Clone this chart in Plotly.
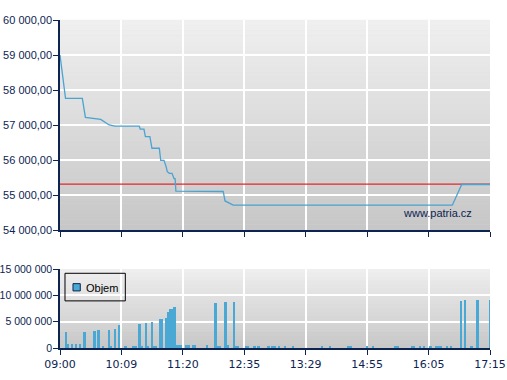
import plotly.graph_objects as go

# ---------------- data ----------------
# x axis is a trade-slot index; labelled slots every 30
tick_slots = [0, 30, 60, 90, 120, 150, 180, 210]
tick_labels = ["09:00", "10:09", "11:20", "12:35", "13:29", "14:55", "16:05", "17:15"]

price_x = [0, 2.7, 10.9, 12.4, 19.9, 24.0, 26.9, 38.7, 39.2, 41.0, 41.7, 43.9, 44.9,
           48.5, 49.2, 50.8, 51.8, 52.4, 53.4, 54.7, 55.7, 56.2, 56.6, 79.7, 80.6,
           81.4, 84.6, 191.6, 196.2, 210]
price_y = [59000, 57760, 57760, 57220, 57160, 57000, 56965, 56965, 56880, 56880,
           56670, 56670, 56335, 56335, 55990, 55990, 55810, 55665, 55620, 55620,
           55470, 55470, 55110, 55100, 54830, 54810, 54710, 54710, 55300, 55300]

reference_price = 55310

vol_x = [3, 4, 6, 8, 10, 12, 17, 19, 21, 24, 25, 27, 29, 32, 36, 37, 39, 40, 42, 43,
         45, 46, 47, 49, 50, 52, 53, 54, 55, 56, 57, 58, 59, 62, 63, 65, 66, 72, 76,
         77, 78, 81, 82, 85, 86, 87, 91, 92, 95, 97, 102, 104, 105, 107, 110, 114,
         128, 132, 141, 142, 150, 153, 164, 165, 172, 173, 176, 178, 181, 184, 185,
         186, 189, 191, 196, 198, 201, 204, 210]
vol_y = [3.1e6, 0.8e6, 0.8e6, 0.8e6, 0.8e6, 3.1e6, 3.3e6, 3.45e6, 0.25e6, 3.45e6,
         0.25e6, 3.65e6, 4.4e6, 0.45e6, 0.45e6, 0.45e6, 4.6e6, 0.25e6, 4.8e6, 0.25e6,
         4.95e6, 0.25e6, 0.25e6, 5.5e6, 5.5e6, 5.7e6, 6.85e6, 7.4e6, 7.4e6, 7.8e6,
         0.6e6, 0.6e6, 0.6e6, 0.6e6, 0.6e6, 0.6e6, 0.6e6, 0.6e6, 8.6e6,
         0.25e6, 0.25e6, 8.7e6, 0.6e6, 8.7e6, 0.25e6, 0.25e6, 0.25e6, 0.25e6, 0.25e6,
         0.25e6, 0.25e6, 0.25e6, 0.25e6, 0.25e6, 0.25e6, 0.25e6,
         0.25e6, 0.25e6, 0.25e6, 0.25e6, 0.25e6, 0.25e6, 0.25e6, 0.25e6, 0.25e6,
         0.25e6, 0.25e6, 0.25e6, 0.25e6, 0.25e6, 0.25e6,
         0.25e6, 0.25e6, 0.25e6, 8.95e6, 9.1e6, 0.25e6, 9.1e6, 9.1e6]

legend_label = "Objem"
watermark = "www.patria.cz"

# ---------------- style ----------------
NAVY = "#0d2452"
LINE = "#4aa3d1"
BAR = "#4aa8d4"
RED = "#e3262a"
FONT_Y = dict(family="Liberation Sans", size=11, color=NAVY)
FONT_Y2 = dict(family="Liberation Sans", size=10.5, color=NAVY)
FONT_X = dict(family="DejaVu Sans", size=11, color=NAVY)

fig = go.Figure()

fig.add_trace(go.Scatter(x=[0, 210], y=[reference_price, reference_price], mode="lines",
                         line=dict(color=RED, width=1.3), xaxis="x", yaxis="y",
                         showlegend=False, hoverinfo="skip"))
fig.add_trace(go.Scatter(x=price_x, y=price_y, mode="lines",
                         line=dict(color=LINE, width=1.3), xaxis="x", yaxis="y",
                         showlegend=False))
fig.add_trace(go.Bar(x=vol_x, y=vol_y, marker=dict(color=BAR, line=dict(width=0)),
                     width=0.95, xaxis="x2", yaxis="y2", showlegend=False))

H, W = 380, 507
mt, mb, ml, mr = 20, 32, 60, 17
ph = H - mt - mb
top_dom = [(348 - 230) / ph, 1]
bot_dom = [0, (348 - 269) / ph]

shapes = []
# gradient backgrounds
def gradient(xref, yref, c_top, c_bot, n=40):
    for i in range(n):
        t = (i + 0.5) / n
        c = [round(c_top[k] + (c_bot[k] - c_top[k]) * t) for k in range(3)]
        shapes.append(dict(type="rect", xref=xref, yref=yref, x0=0, x1=1,
                           y0=1 - (i + 1) / n, y1=1 - i / n + 0.001, layer="below",
                           line=dict(width=0), fillcolor="rgb(%d,%d,%d)" % tuple(c)))

gradient("x domain", "y domain", (240, 240, 240), (198, 198, 198))
gradient("x2 domain", "y2 domain", (239, 239, 239), (199, 199, 199))

# legend box (drawn)
shapes.append(dict(type="rect", xref="x2 domain", yref="y2 domain", x0=0.0116, x1=0.1519,
                   y0=0.5965, y1=0.9458, line=dict(color="black", width=1), layer="above"))
shapes.append(dict(type="rect", xref="x2 domain", yref="y2 domain", x0=0.0302, x1=0.0472,
                   y0=0.7226, y1=0.8146, line=dict(color=NAVY, width=1), fillcolor=BAR,
                   layer="above"))

annotations = [
    dict(text=legend_label, xref="x2 domain", yref="y2 domain", x=0.0565, y=0.7566,
         xanchor="left", yanchor="middle", showarrow=False,
         font=dict(family="Liberation Sans", size=11, color="black")),
    dict(text=watermark, xref="x domain", yref="y domain", x=0.879, y=0.081,
         xanchor="center", yanchor="middle", showarrow=False,
         font=dict(family="Liberation Sans", size=11, color=NAVY)),
]

axis_common = dict(showline=True, linecolor=NAVY, linewidth=1.5, ticks="outside",
                   ticklen=5, tickcolor=NAVY, tickwidth=1, showgrid=True,
                   gridcolor="white", gridwidth=2, zeroline=False, automargin=False)

fig.update_layout(
    width=W, height=H,
    margin=dict(l=ml, r=mr, t=mt, b=mb),
    paper_bgcolor="white", plot_bgcolor="#dddddd",
    separators=", ",
    showlegend=False,
    bargap=0,
    shapes=shapes, annotations=annotations,
    xaxis=dict(domain=[0, 1], range=[0, 210], tickvals=tick_slots, ticktext=tick_labels,
               showticklabels=False, anchor="y", **axis_common),
    yaxis=dict(domain=top_dom, range=[54000, 60000], dtick=1000, tickformat=",.2f",
               tickfont=FONT_Y, anchor="x", ticklabelstandoff=-1, **axis_common),
    xaxis2=dict(domain=[0, 1], range=[0, 210], tickvals=tick_slots, ticktext=tick_labels,
                tickfont=FONT_X, anchor="y2", **axis_common),
    yaxis2=dict(domain=bot_dom, range=[0, 15e6], tickvals=[0, 5e6, 10e6, 15e6],
                tickformat=",d", tickfont=FONT_Y2, anchor="x2", ticklabelstandoff=-1,
                **axis_common),
)

fig.write_html("out.html")
